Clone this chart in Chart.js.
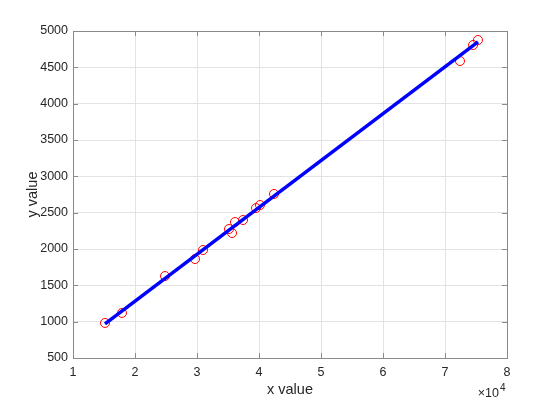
<!DOCTYPE html>
<html>
<head>
<meta charset="utf-8">
<script src="https://cdn.jsdelivr.net/npm/chart.js@4/dist/chart.umd.min.js"></script>
<style>
  body { margin: 0; background: #ffffff; }
  canvas { display: block; }
</style>
</head>
<body>
<canvas id="grafico" width="560" height="420"></canvas>
<script>
// dados
const xValores = [15160, 17900, 24840, 29680, 30970, 35160, 35650, 36130, 37420, 39520, 40160, 42420, 72420, 74520, 75320];
const yValores = [982, 1120, 1628, 1862, 1986, 2275, 2220, 2371, 2399, 2564, 2605, 2757, 4587, 4807, 4876];
// reta ajustada (extremos)
const retaX = [15160, 75320];
const retaY = [970, 4850];

const xTicks = [10000, 20000, 30000, 40000, 50000, 60000, 70000, 80000];
const yTicks = [500, 1000, 1500, 2000, 2500, 3000, 3500, 4000, 4500, 5000];

const corTexto = '#262626';
const corEixo = '#8a8a8a';
const fonte = '"Liberation Sans", Arial, sans-serif';

// caixa, marcas internas e o multiplicador x10^4
const caixaPlugin = {
    id: 'caixa',
    afterDraw(chart) {
        const { ctx, chartArea: a, scales } = chart;
        ctx.save();
        ctx.strokeStyle = corEixo;
        ctx.lineWidth = 1;
        ctx.beginPath();
        xTicks.forEach(v => {
            const px = Math.round(scales.x.getPixelForValue(v)) + 0.5;
            ctx.moveTo(px, a.bottom); ctx.lineTo(px, a.bottom - 5);
            ctx.moveTo(px, a.top); ctx.lineTo(px, a.top + 5);
        });
        yTicks.forEach(v => {
            const py = Math.round(scales.y.getPixelForValue(v)) + 0.5;
            ctx.moveTo(a.left, py); ctx.lineTo(a.left + 5, py);
            ctx.moveTo(a.right, py); ctx.lineTo(a.right - 5, py);
        });
        ctx.stroke();
        ctx.strokeRect(Math.round(a.left) + 0.5, Math.round(a.top) + 0.5,
            Math.round(a.right - a.left), Math.round(a.bottom - a.top));

        ctx.fillStyle = corTexto;
        ctx.textBaseline = 'alphabetic';
        ctx.textAlign = 'right';
        ctx.font = '12.5px ' + fonte;
        ctx.fillText('\u00d710', a.right - 8, 397);
        ctx.textAlign = 'left';
        ctx.font = '10px ' + fonte;
        ctx.fillText('4', a.right - 7, 391);
        ctx.restore();
    }
};

new Chart(document.getElementById('grafico'), {
    type: 'scatter',
    data: {
        datasets: [
            {
                type: 'line',
                data: retaX.map((x, i) => ({ x: x, y: retaY[i] })),
                borderColor: '#0000ff',
                borderWidth: 3.5,
                pointRadius: 0,
                fill: false,
                order: 1
            },
            {
                data: xValores.map((x, i) => ({ x: x, y: yValores[i] })),
                pointRadius: 4.5,
                pointBorderWidth: 1,
                borderColor: '#ff0000',
                backgroundColor: 'rgba(0,0,0,0)',
                pointBackgroundColor: 'rgba(0,0,0,0)',
                order: 2
            }
        ]
    },
    options: {
        responsive: false,
        animation: false,
        devicePixelRatio: 1,
        layout: { padding: { left: 0, top: 31, right: 53, bottom: 0 } },
        plugins: {
            legend: { display: false },
            tooltip: { enabled: false }
        },
        scales: {
            x: {
                type: 'linear',
                min: 10000,
                max: 80000,
                afterFit: s => { s.height = 62; },
                afterBuildTicks: s => { s.ticks = xTicks.map(v => ({ value: v })); },
                ticks: {
                    callback: v => v / 10000,
                    color: corTexto,
                    font: { family: fonte, size: 12.5 },
                    padding: 7,
                    maxRotation: 0
                },
                grid: { color: '#e3e3e3', drawTicks: false },
                border: { display: false },
                title: {
                    display: true,
                    text: 'x value',
                    color: corTexto,
                    font: { family: fonte, size: 14.5 },
                    padding: { top: 0, bottom: 21 }
                }
            },
            y: {
                type: 'linear',
                min: 500,
                max: 5000,
                afterFit: s => { s.width = 73; },
                afterBuildTicks: s => { s.ticks = yTicks.map(v => ({ value: v })); },
                ticks: {
                    callback: v => String(v),
                    color: corTexto,
                    font: { family: fonte, size: 12.5 },
                    padding: 5
                },
                grid: { color: '#e3e3e3', drawTicks: false },
                border: { display: false },
                title: {
                    display: true,
                    text: 'y value',
                    color: corTexto,
                    font: { family: fonte, size: 14.5 },
                    padding: { top: 24, bottom: 0 }
                }
            }
        }
    },
    plugins: [caixaPlugin]
});
</script>
</body>
</html>
